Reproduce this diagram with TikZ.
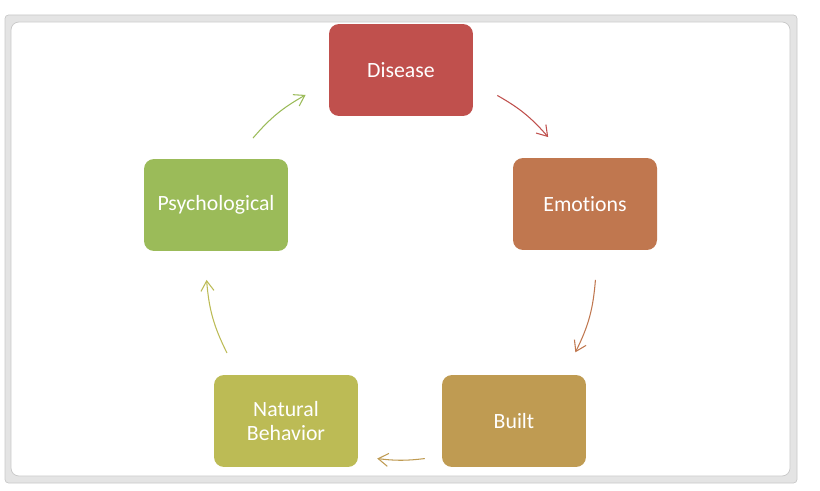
\documentclass[tikz,border=0pt]{standalone}
\usepackage{xcolor}
\usepackage{fontspec}
\setmainfont{Carlito}[Ligatures=NoCommon]
\usepackage{tikz}
\usetikzlibrary{arrows.meta,calc}

\definecolor{diseasecol}{HTML}{C0504D}
\definecolor{emotioncol}{HTML}{C0774F}
\definecolor{builtcol}{HTML}{BF9B52}
\definecolor{naturecol}{HTML}{BCBB55}
\definecolor{psychcol}{HTML}{9BBB59}
\definecolor{framegray}{HTML}{E4E4E4}
\definecolor{frameedge}{HTML}{C8C8C8}

\begin{document}
\begin{tikzpicture}[
  x=0.02cm, y=0.02cm,
  cyclebox/.style={rectangle, rounded corners=0.2cm,
                minimum width=2.88cm, minimum height=1.84cm,
                align=center, text=white, fill=#1, inner sep=2pt,
                font=\fontsize{12.4}{13.8}\selectfont},
  cyclebox/.default={diseasecol},
  arrow/.style={-{Straight Barb[length=2mm, width=2.6mm]}, line width=0.6pt, color=#1},
]
  \useasboundingbox (0,0) rectangle (820,490);
  % selection frame
  \fill[framegray, draw=frameedge, rounded corners=2pt] (5,7) rectangle (797,475);
  \fill[white, draw=frameedge, rounded corners=0.16cm] (11,14) rectangle (790,468);

  \coordinate (hub) at (401,225);

  \node[cyclebox=diseasecol] (disease) at (401,420) {Disease};
  \node[cyclebox=emotioncol] (emotions) at (585,286) {Emotions};
  \node[cyclebox=builtcol] (built) at (514,69) {Built};
  \node[cyclebox=naturecol] (natural) at (286,69) {Natural\\Behavior};
  \node[cyclebox=psychcol] (psych) at (216,285) {Psychological};

  % arrow ends on the ring
  \coordinate (de-a) at ($(hub)+(60.4:195)$);
  \coordinate (de-b) at ($(hub)+(41:195)$);
  \coordinate (eb-a) at ($(hub)+(-4.4:195)$);
  \coordinate (eb-b) at ($(hub)+(-26.6:195)$);
  \coordinate (bn-a) at ($(hub)+(-83:195)$);
  \coordinate (bn-b) at ($(hub)+(-97:195)$);
  \coordinate (np-a) at ($(hub)+(206.8:195)$);
  \coordinate (np-b) at ($(hub)+(184.4:195)$);
  \coordinate (pd-a) at ($(hub)+(139.4:195)$);
  \coordinate (pd-b) at ($(hub)+(119.3:195)$);

  \draw[arrow=diseasecol] (de-a) to[bend left=9.7] (de-b);
  \draw[arrow=emotioncol] (eb-a) to[bend left=11] (eb-b);
  \draw[arrow=builtcol] (bn-a) to[bend left=7] (bn-b);
  \draw[arrow=naturecol] (np-a) to[bend left=11] (np-b);
  \draw[arrow=psychcol] (pd-a) to[bend left=10] (pd-b);
\end{tikzpicture}
\end{document}
